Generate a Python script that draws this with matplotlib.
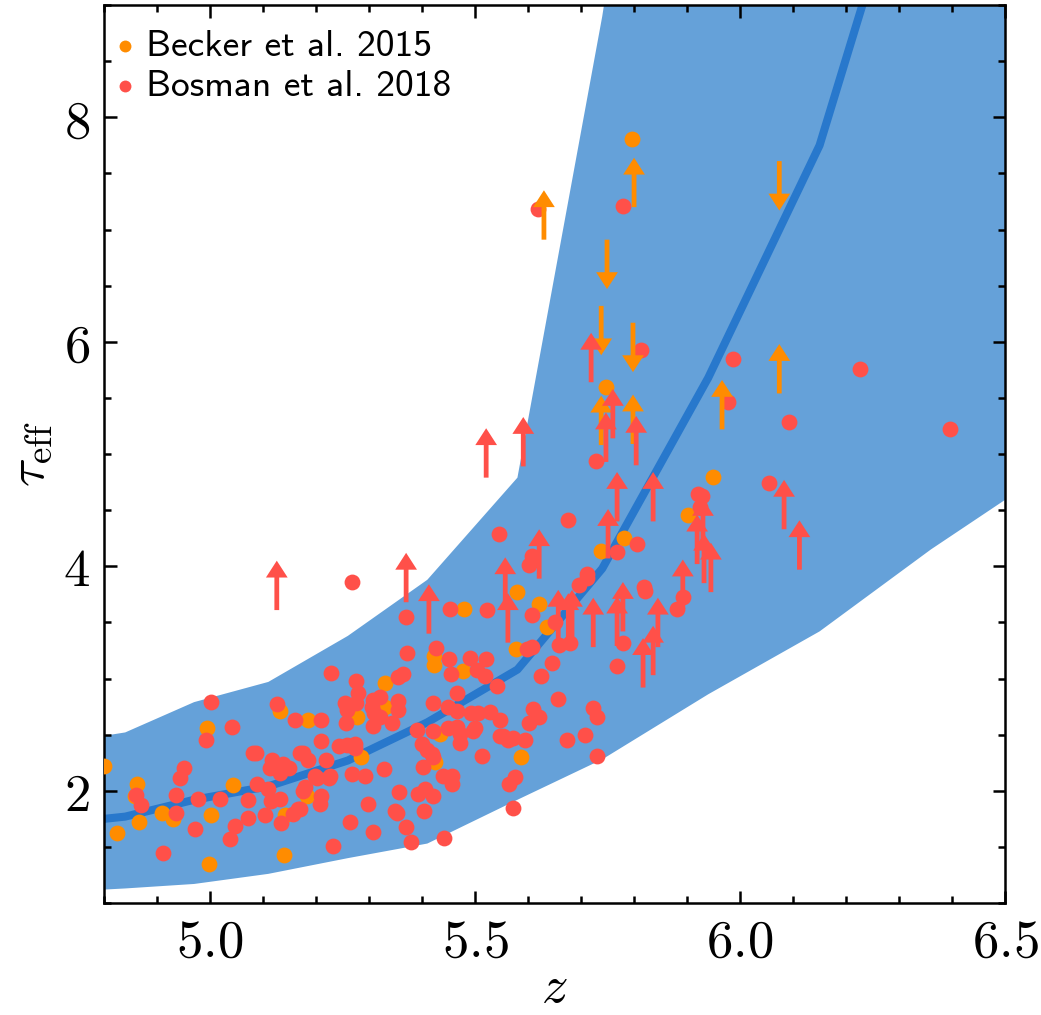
import numpy as np
import matplotlib.pyplot as plt
from matplotlib.ticker import MultipleLocator, FuncFormatter

plt.rcParams['mathtext.fontset'] = 'cm'
plt.rcParams['font.family'] = 'serif'

# model: median tau_eff and scatter band vs redshift
z_grid = [4.80, 4.84, 4.97, 5.11, 5.26, 5.41, 5.58, 5.74, 5.94, 6.15, 6.36, 6.55]
tau_hi = [2.49, 2.52, 2.79, 2.97, 3.38, 3.88, 4.79, 8.9, 15.0, 20.0, 25.0, 30.0]
tau_med = [1.75, 1.77, 1.92, 2.04, 2.27, 2.61, 3.08, 3.98, 5.68, 7.75, 11.0, 14.0]
tau_lo = [1.12, 1.13, 1.17, 1.26, 1.40, 1.53, 1.92, 2.28, 2.86, 3.42, 4.15, 4.75]

# Becker et al. 2015
becker_z = [4.80, 4.862, 4.858, 4.909, 4.930, 4.866, 5.002, 4.825, 5.140, 4.998, 4.994, 5.132,
            5.043, 5.142, 5.479, 5.423, 5.423, 5.477, 5.330, 5.277, 5.330, 5.185, 5.434, 5.285,
            5.425, 5.183, 5.738, 5.781, 5.579, 5.621, 5.636, 5.577, 5.587, 5.949, 5.902, 5.796,
            5.747]
becker_tau = [2.22, 2.06, 1.95, 1.80, 1.75, 1.72, 1.78, 1.62, 1.43, 1.35, 2.56, 2.71,
              2.05, 1.78, 3.62, 3.20, 3.12, 3.07, 2.96, 2.66, 2.75, 2.63, 2.51, 2.30,
              2.26, 1.95, 4.14, 4.25, 3.77, 3.66, 3.46, 3.26, 2.30, 4.80, 4.46, 7.81,
              5.60]
becker_lo_z = [5.630, 5.800, 5.738, 5.798, 5.966, 6.074]
becker_lo_tau = [6.91, 7.20, 5.08, 5.09, 5.22, 5.54]
becker_up_z = [5.749, 5.738, 5.798, 6.074]
becker_up_tau = [6.91, 6.32, 6.17, 7.61]

# Bosman et al. 2018
bosman_z = [5.002, 5.126, 5.160, 5.042, 4.992, 5.081, 5.087, 5.170, 4.951, 4.943, 5.117, 5.113,
            5.126, 5.138, 5.149, 5.132, 4.860, 4.870, 4.936, 5.089, 5.109, 4.977, 5.019, 5.072,
            5.115, 5.132, 4.936, 5.072, 5.104, 5.157, 5.166, 5.134, 5.047, 4.972, 5.038, 4.911,
            5.268, 5.370, 5.453, 5.523, 5.372, 5.426, 5.451, 5.491, 5.521, 5.455, 5.504, 5.519,
            5.542, 5.228, 5.275, 5.355, 5.364, 5.279, 5.466, 5.255, 5.258, 5.275, 5.308, 5.321,
            5.306, 5.309, 5.321, 5.308, 5.355, 5.355, 5.343, 5.257, 5.421, 5.449, 5.466, 5.492,
            5.506, 5.528, 5.547, 5.209, 5.391, 5.421, 5.449, 5.466, 5.472, 5.472, 5.500, 5.496,
            5.547, 5.209, 5.243, 5.258, 5.274, 5.274, 5.175, 5.185, 5.219, 5.400, 5.409, 5.421,
            5.419, 5.513, 5.402, 5.328, 5.268, 5.292, 5.198, 5.202, 5.226, 5.225, 5.179, 5.175,
            5.209, 5.208, 5.440, 5.457, 5.457, 5.357, 5.393, 5.406, 5.421, 5.298, 5.170, 5.349,
            5.353, 5.404, 5.264, 5.308, 5.370, 5.379, 5.442, 5.232,
            5.608, 5.602, 5.768, 5.806, 5.711, 5.711, 5.696, 5.608, 5.651, 5.658, 5.679, 5.779,
            5.819, 5.821, 5.892, 5.881, 5.608, 5.598, 5.645, 5.625, 5.768, 5.657, 5.609, 5.621,
            5.602, 5.723, 5.730, 5.553, 5.572, 5.594, 5.562, 5.674, 5.708, 5.730, 5.575, 5.564,
            5.572, 5.977, 6.093, 6.396, 6.055, 5.928, 5.921, 5.925, 5.779, 5.619, 5.813, 5.728,
            5.675, 5.545, 5.987, 6.226]
bosman_tau = [2.79, 2.77, 2.63, 2.57, 2.45, 2.34, 2.34, 2.34, 2.20, 2.11, 2.27, 2.20,
              2.21, 2.24, 2.20, 2.16, 1.96, 1.87, 1.96, 2.06, 2.02, 1.93, 1.93, 1.92,
              1.91, 1.93, 1.80, 1.76, 1.78, 1.79, 1.84, 1.71, 1.69, 1.66, 1.57, 1.45,
              3.86, 3.55, 3.62, 3.61, 3.23, 3.27, 3.17, 3.18, 3.17, 3.04, 3.08, 3.02,
              2.93, 3.05, 2.98, 3.01, 3.04, 2.87, 2.87, 2.78, 2.72, 2.78, 2.81, 2.84,
              2.75, 2.69, 2.66, 2.58, 2.80, 2.72, 2.60, 2.60, 2.78, 2.75, 2.71, 2.69,
              2.69, 2.70, 2.63, 2.63, 2.54, 2.53, 2.56, 2.57, 2.51, 2.43, 2.56, 2.53,
              2.49, 2.44, 2.40, 2.41, 2.42, 2.38, 2.34, 2.27, 2.27, 2.42, 2.36, 2.30,
              2.33, 2.31, 2.21, 2.19, 2.15, 2.13, 2.13, 2.11, 2.13, 2.11, 2.03, 2.00,
              1.95, 1.88, 2.13, 2.13, 2.06, 1.99, 1.97, 2.02, 1.95, 1.88, 1.84, 1.82,
              1.80, 1.82, 1.72, 1.63, 1.68, 1.54, 1.58, 1.51,
              4.09, 4.01, 4.13, 4.20, 3.93, 3.90, 3.83, 3.57, 3.50, 3.30, 3.32, 3.32,
              3.82, 3.78, 3.73, 3.62, 3.28, 3.26, 3.14, 3.02, 3.11, 2.82, 2.73, 2.66,
              2.60, 2.74, 2.66, 2.49, 2.47, 2.45, 2.45, 2.45, 2.50, 2.31, 2.12, 2.06,
              1.85, 5.46, 5.29, 5.22, 4.74, 4.63, 4.64, 4.53, 7.21, 7.18, 5.93, 4.94,
              4.41, 4.29, 5.85, 5.76]
bosman_lo_z = [5.126, 5.370, 5.413, 5.557, 5.562, 5.621, 5.657, 5.676, 5.683, 5.723, 5.768,
               5.779, 5.892, 5.845, 5.836, 5.817, 6.083, 6.112, 5.919, 5.930, 5.932, 5.945,
               5.719, 5.760, 5.747, 5.804, 5.521, 5.591, 5.768, 5.836, 5.751]
bosman_lo_tau = [3.61, 3.68, 3.40, 3.64, 3.32, 3.89, 3.35, 3.32, 3.35, 3.28, 3.29,
                 3.42, 3.62, 3.28, 3.03, 2.92, 4.33, 3.97, 4.02, 4.16, 3.85, 3.77,
                 5.64, 5.14, 4.93, 4.90, 4.79, 4.89, 4.40, 4.40, 4.07]

c_band = '#65a1d9'
c_med = '#2878cc'
c_becker = '#ff8c00'
c_bosman = '#ff5049'


def limits(ax, zs, taus, color, sign):
    for z, t in zip(zs, taus):
        ax.arrow(z, t, 0, sign * 0.44, width=0.009, head_width=0.041, head_length=0.15,
                 length_includes_head=True, color=color, lw=0, zorder=4)


fig = plt.figure(figsize=(10.41, 10.15), dpi=100)
ax = fig.add_axes([0.0999, 0.1103, 0.8656, 0.8847])

ax.fill_between(z_grid, tau_lo, tau_hi, color=c_band, lw=0, zorder=1)
ax.plot(z_grid, tau_med, color=c_med, lw=5.8, zorder=2)

ax.scatter(becker_z, becker_tau, s=130, color=c_becker, lw=0, zorder=3,
           label='Becker et al. 2015')
ax.scatter(bosman_z, bosman_tau, s=130, color=c_bosman, lw=0, zorder=3,
           label='Bosman et al. 2018')
limits(ax, becker_lo_z, becker_lo_tau, c_becker, 1)
limits(ax, becker_up_z, becker_up_tau, c_becker, -1)
limits(ax, bosman_lo_z, bosman_lo_tau, c_bosman, 1)

ax.set_xlim(4.8, 6.5)
ax.set_ylim(1, 9)
ax.xaxis.set_major_locator(MultipleLocator(0.5))
ax.xaxis.set_minor_locator(MultipleLocator(0.1))
ax.yaxis.set_major_locator(MultipleLocator(2))
ax.yaxis.set_minor_locator(MultipleLocator(0.5))
ax.xaxis.set_major_formatter(FuncFormatter(lambda v, p: r'$%.1f$' % v))
ax.yaxis.set_major_formatter(FuncFormatter(lambda v, p: r'$%d$' % round(v)))
ax.tick_params(which='both', direction='in', top=True, right=True, width=1.8, labelsize=38)
ax.tick_params(which='major', length=9, pad=10)
ax.tick_params(which='minor', length=5)
for s in ax.spines.values():
    s.set_linewidth(1.8)

ax.set_xlabel(r'$z$', fontsize=38, labelpad=-4)
ax.set_ylabel(r'$\tau_{\rm eff}$', fontsize=38, labelpad=6)

ax.legend(loc='upper left', bbox_to_anchor=(-0.008, 0.996), frameon=False,
          prop={'family': 'cmss10', 'size': 27}, markerscale=0.75, handlelength=0.4,
          handletextpad=0.35, borderaxespad=0.15, labelspacing=0.2)

fig.savefig('out.png', dpi=100)
